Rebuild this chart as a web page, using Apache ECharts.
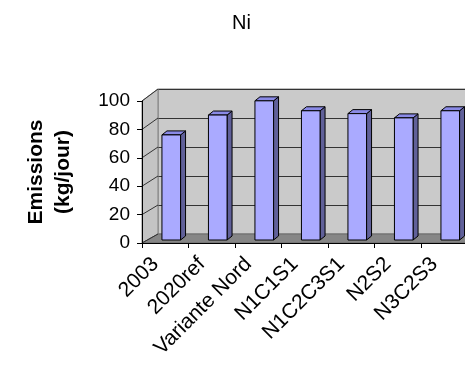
<!DOCTYPE html>
<html>
<head>
<meta charset="utf-8">
<script src="https://cdn.jsdelivr.net/npm/echarts@6/dist/echarts.min.js"></script>
<style>
  html, body { margin: 0; padding: 0; background: #fff; }
  #chart { width: 465px; height: 370px; }
</style>
</head>
<body>
<div id="chart"></div>
<script>
// Nickel emissions per scenario (kg/jour)
const categories = ['2003', '2020ref', 'Variante Nord', 'N1C1S1', 'N1C2C3S1', 'N2S2', 'N3C2S3'];
const emissions = [74, 88, 98, 91, 89, 86, 91];
const yTicks = [0, 20, 40, 60, 80, 100];
const Y_MIN = 0, Y_MAX = 100, Y_STEP = 20;
const chartTitle = 'Ni';
const yName = 'Emissions\n(kg/jour)';

const FONT = '"Liberation Sans", Arial, sans-serif';

// box depth: offset of the back plane from the front plane
const DEPTH_X = 16, DEPTH_Y_TOP = -12, DEPTH_Y_BOTTOM = -9;
// bar position inside the depth and bar thickness
const BAR_SHIFT_X = 6, BAR_SHIFT_Y = -3, BAR_DX = 5, BAR_DY = -4;

function backOffsetY(frac) {
  return DEPTH_Y_BOTTOM + (DEPTH_Y_TOP - DEPTH_Y_BOTTOM) * frac;
}

// side wall, floor and the grid lines running across the side wall
function renderWalls(params, api) {
  const cs = params.coordSys;
  const x0 = cs.x, x1 = cs.x + cs.width;
  const yTop = cs.y, yBot = cs.y + cs.height;
  const children = [];
  children.push({
    type: 'polygon',
    shape: { points: [[x0, yTop], [x0 + DEPTH_X, yTop + DEPTH_Y_TOP], [x0 + DEPTH_X, yBot + DEPTH_Y_BOTTOM], [x0, yBot]] },
    style: { fill: '#C4C4C4', stroke: '#808080', lineWidth: 1 }
  });
  children.push({
    type: 'polygon',
    shape: { points: [[x0, yBot], [x0 + DEPTH_X, yBot + DEPTH_Y_BOTTOM], [x1 + DEPTH_X, yBot + DEPTH_Y_BOTTOM], [x1, yBot]] },
    style: { fill: '#868686', stroke: '#6a6a6a', lineWidth: 1 }
  });
  yTicks.forEach(function (v) {
    const p = api.coord([0, v]);
    const frac = (v - Y_MIN) / (Y_MAX - Y_MIN);
    children.push({
      type: 'line',
      shape: { x1: x0, y1: p[1], x2: x0 + DEPTH_X, y2: p[1] + backOffsetY(frac) },
      style: { stroke: '#333333', lineWidth: 1 }
    });
  });
  return { type: 'group', children: children };
}

// one 3D column: side face, top face, front face
function renderBar(params, api) {
  const idx = api.value(0), val = api.value(1);
  const base = api.coord([idx, Y_MIN]);
  const top = api.coord([idx, val]);
  const band = api.size([1, 0])[0];
  const w = band * 0.4;
  const xl = base[0] - w / 2 + BAR_SHIFT_X, xr = xl + w;
  const yt = top[1] + BAR_SHIFT_Y, yb = base[1] + BAR_SHIFT_Y;
  return {
    type: 'group',
    children: [
      {
        type: 'polygon',
        shape: { points: [[xr, yt], [xr + BAR_DX, yt + BAR_DY], [xr + BAR_DX, yb + BAR_DY], [xr, yb]] },
        style: { fill: '#606099', stroke: '#000', lineWidth: 1 }
      },
      {
        type: 'polygon',
        shape: { points: [[xl, yt], [xl + BAR_DX, yt + BAR_DY], [xr + BAR_DX, yt + BAR_DY], [xr, yt]] },
        style: { fill: '#8A8AE6', stroke: '#000', lineWidth: 1 }
      },
      {
        type: 'rect',
        shape: { x: xl, y: yt, width: w, height: yb - yt },
        style: { fill: '#AAAAFF', stroke: '#000', lineWidth: 1 }
      }
    ]
  };
}

const chart = echarts.init(document.getElementById('chart'), null, { renderer: 'canvas' });

const option = {
  animation: false,
  backgroundColor: '#ffffff',
  title: {
    text: chartTitle,
    left: 227,
    top: 8,
    textStyle: { fontFamily: FONT, fontSize: 20, fontWeight: 'normal', color: '#000' }
  },
  grid: [
    { left: 142, top: 101, width: 325.5, height: 142, containLabel: false, outerBoundsMode: 'none' },
    {
      left: 158, top: 89, width: 325.5, height: 145, containLabel: false, outerBoundsMode: 'none',
      show: true, backgroundColor: '#CACACA', borderColor: '#808080', borderWidth: 1
    }
  ],
  xAxis: [
    {
      gridIndex: 0, type: 'category', data: categories, boundaryGap: true, z: 5,
      axisLine: { show: true, lineStyle: { color: '#000', width: 1 } },
      axisTick: { show: true, length: 5, lineStyle: { color: '#000' } },
      axisLabel: {
        rotate: 45, interval: 0, fontSize: 21, color: '#000', fontFamily: FONT,
        margin: 8, padding: [0, 14, 0, 0]
      }
    },
    { gridIndex: 1, type: 'category', data: categories, show: false }
  ],
  yAxis: [
    {
      gridIndex: 0, type: 'value', min: Y_MIN, max: Y_MAX, interval: Y_STEP, z: 5,
      name: yName, nameLocation: 'middle', nameRotate: 90, nameGap: 65,
      nameTextStyle: { fontFamily: FONT, fontSize: 21, fontWeight: 'bold', color: '#000', lineHeight: 27 },
      axisLine: { show: true, lineStyle: { color: '#000', width: 1 } },
      axisTick: { show: true, length: 5, lineStyle: { color: '#000' } },
      splitLine: { show: false },
      axisLabel: { fontSize: 19, color: '#000', fontFamily: FONT, margin: 12 }
    },
    {
      gridIndex: 1, type: 'value', min: Y_MIN, max: Y_MAX, interval: Y_STEP,
      axisLine: { show: false }, axisTick: { show: false }, axisLabel: { show: false },
      splitLine: { show: true, lineStyle: { color: '#333333', width: 1 } }
    }
  ],
  series: [
    {
      type: 'custom', xAxisIndex: 0, yAxisIndex: 0, z: 1, silent: true,
      renderItem: renderWalls, data: [[0, 0]], clip: false
    },
    {
      type: 'custom', xAxisIndex: 0, yAxisIndex: 0, z: 3, clip: false,
      renderItem: renderBar,
      encode: { x: 0, y: 1 },
      data: emissions.map(function (v, i) { return [i, v]; })
    }
  ]
};

chart.setOption(option);
</script>
</body>
</html>
